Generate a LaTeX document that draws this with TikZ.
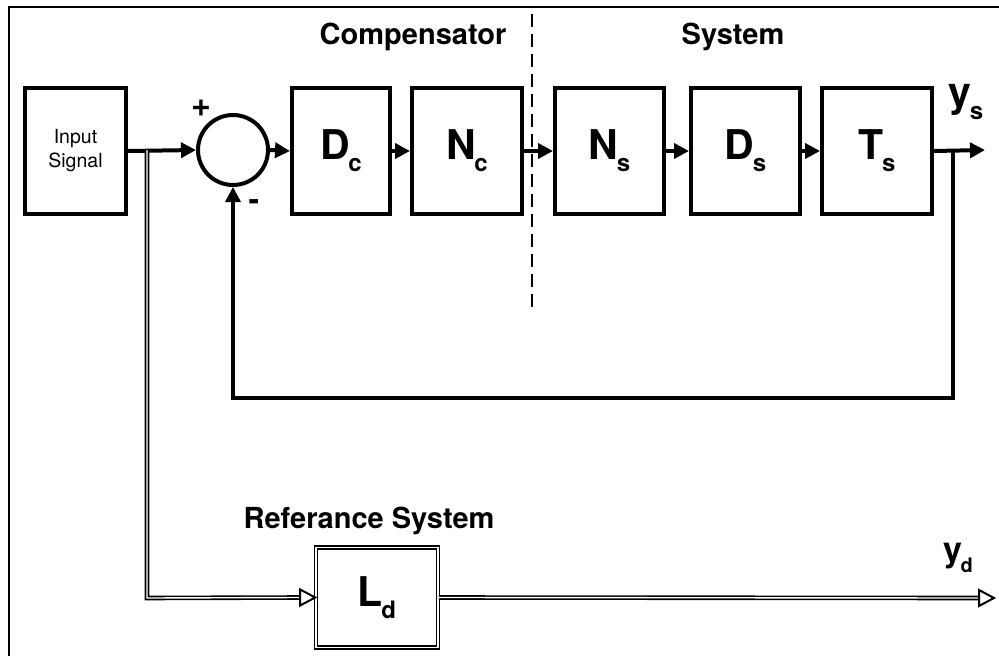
\documentclass[tikz,border=0pt]{standalone}
\usepackage{fontspec}
\setmainfont{TeX Gyre Heros}
\usetikzlibrary{arrows.meta}
\newcommand{\blk}[2]{{\fontsize{41}{44}\selectfont\bfseries #1\kern-0.04em\raisebox{-0.3em}{\fontsize{24}{25}\selectfont #2}}}
\begin{document}
\begin{tikzpicture}[x=1pt,y=-1pt,
  blockbox/.style={draw,line width=4pt,minimum height=126pt,inner sep=0pt},
  sig/.style={line width=4pt,-{Triangle[length=15pt,width=15pt]}},
  fb/.style={line width=3.4pt},
  refline/.style={line width=1.6pt,double=white,double distance=1.4pt},
  hdr/.style={font=\fontsize{29}{32}\selectfont\bfseries}]
\useasboundingbox (0,0) rectangle (999,656);
% frame
\draw[line width=2.5pt] (9,656) -- (9,7) -- (999,7);
% blocks
\node[blockbox,minimum width=101pt,align=center,font=\fontsize{19.5}{24}\selectfont] (in) at (75.5,151) {Input\\Signal};
\node[circle,draw,line width=4pt,minimum size=70pt,inner sep=0pt] (sum) at (233,150) {};
\node[blockbox,minimum width=98pt] (dc) at (341,151) {\blk{D}{c}};
\node[blockbox,minimum width=110pt] (nc) at (467,151) {\blk{N}{c}};
\node[blockbox,minimum width=109pt] (ns) at (609.5,151) {\blk{N}{s}};
\node[blockbox,minimum width=109pt] (ds) at (745.5,151) {\blk{D}{s}};
\node[blockbox,minimum width=110pt] (ts) at (877,151) {\blk{T}{s}};
\node[draw,line width=1.6pt,double=white,double distance=1.4pt,minimum width=122pt,minimum height=100pt,inner sep=0pt] (ld) at (377,597.5) {\blk{L}{d}};
% labels
\node[hdr] (lcomp) at (413,37) {Compensator};
\node[hdr] (lsys) at (733,37) {System};
\node[hdr] (lref) at (369,521) {Referance System};
\node[font=\fontsize{34}{34}\selectfont\bfseries] (lplus) at (201,108) {+};
\node[font=\fontsize{32}{32}\selectfont\bfseries] (lminus) at (254,205) {-};
\node (lys) at (966,102) {\blk{y}{s}};
\node (lyd) at (958,558) {{\fontsize{34}{36}\selectfont\bfseries y\kern-0.05em\raisebox{-0.3em}{\fontsize{20}{22}\selectfont d}}};
% coordinates
\coordinate (tapin) at (147,150);
\coordinate (tapout) at (953,150);
\coordinate (yout) at (985,150);
\coordinate (fbr) at (953,398);
\coordinate (fbl) at (sum.south |- fbr);
\coordinate (refc) at (147,598);
\coordinate (ydout) at (994,598);
\coordinate (dtop) at (532,14);
\coordinate (dbot) at (532,307);
% forward path
\draw[sig] (in.east) -- (sum.west);
\draw[sig] (sum.east) -- (dc.west);
\draw[sig] (dc.east) -- (nc.west);
\draw[sig] (nc.east) -- (ns.west);
\draw[sig] (ns.east) -- (ds.west);
\draw[sig] (ds.east) -- (ts.west);
\draw[sig] (ts.east) -- (yout);
% feedback
\draw[fb,-{Triangle[length=15pt,width=15pt]}] (tapout) -- (fbr) -- (fbl) -- (sum.south);
% reference branch
\draw[refline] (tapin) -- (refc) -- ([xshift=-15pt]ld.west);
\draw[line width=2pt,fill=white] (ld.west) -- ++(-15pt,-8pt) -- ++(0,16pt) -- cycle;
\draw[refline] (ld.east) -- ([xshift=-15pt]ydout);
\draw[line width=2pt,fill=white] (ydout) -- ++(-15pt,-8pt) -- ++(0,16pt) -- cycle;
% divider
\draw[line width=2.2pt,dash pattern=on 13pt off 7pt] (dtop) -- (dbot);
\end{tikzpicture}
\end{document}
